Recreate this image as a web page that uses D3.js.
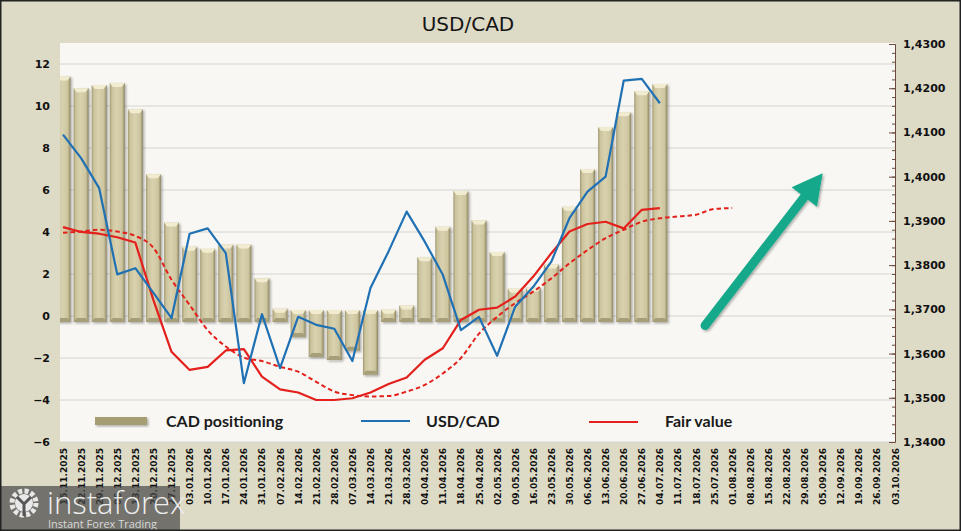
<!DOCTYPE html>
<html>
<head>
<meta charset="utf-8">
<script src="https://cdn.jsdelivr.net/npm/d3@7"></script>
<style>
  html, body { margin: 0; padding: 0; background: #dddac6; }
  svg { display: block; }
</style>
</head>
<body>
<div id="chart"></div>
<script>
// weekly dates on the x axis
const dates = [
  "15.11.2025", "22.11.2025", "29.11.2025", "06.12.2025", "13.12.2025", "20.12.2025", "27.12.2025",
  "03.01.2026", "10.01.2026", "17.01.2026", "24.01.2026", "31.01.2026", "07.02.2026", "14.02.2026",
  "21.02.2026", "28.02.2026", "07.03.2026", "14.03.2026", "21.03.2026", "28.03.2026", "04.04.2026",
  "11.04.2026", "18.04.2026", "25.04.2026", "02.05.2026", "09.05.2026", "16.05.2026", "23.05.2026",
  "30.05.2026", "06.06.2026", "13.06.2026", "20.06.2026", "27.06.2026", "04.07.2026", "11.07.2026",
  "18.07.2026", "25.07.2026", "01.08.2026", "08.08.2026", "15.08.2026", "22.08.2026", "29.08.2026",
  "05.09.2026", "12.09.2026", "19.09.2026", "26.09.2026", "03.10.2026"
];

// CAD positioning (left axis)
const cadPositioning = [
  11.4, 10.85, 11.0, 11.1, 9.85, 6.75, 4.45, 3.3, 3.2, 3.4, 3.4, 1.8, 0.35, -1.0,
  -1.95, -2.1, -1.65, -2.8, 0.3, 0.5, 2.8, 4.25, 5.95, 4.55, 3.05, 1.3, 1.35, 2.45,
  5.2, 7.0, 9.0, 9.7, 10.7, 11.05
];

// USD/CAD (right axis)
const usdcad = [
  1.4095, 1.4042, 1.3974, 1.3779, 1.3793, 1.3737, 1.3680, 1.3871, 1.3883, 1.3827,
  1.3533, 1.3689, 1.3567, 1.3683, 1.3665, 1.3656, 1.3583, 1.3748, 1.3831, 1.3921,
  1.3853, 1.3778, 1.3653, 1.3683, 1.3595, 1.3706, 1.3751, 1.3808, 1.3906, 1.3966,
  1.4000, 1.4217, 1.4221, 1.4166
];

// Fair value (right axis)
const fairValue = [
  1.3886, 1.3875, 1.3871, 1.3863, 1.3851, 1.3721, 1.3604, 1.3563, 1.3570, 1.3607,
  1.3610, 1.3548, 1.3519, 1.3512, 1.3495, 1.3495, 1.3499, 1.3512, 1.3531, 1.3546,
  1.3586, 1.3612, 1.3676, 1.3699, 1.3704, 1.3729, 1.3774, 1.3827, 1.3876, 1.3893,
  1.3898, 1.3883, 1.3925, 1.3929
];

// Fair value trend (dashed, right axis)
const fairTrend = [
  1.3873, 1.3876, 1.3880, 1.3876, 1.3866, 1.3839, 1.3767, 1.3710, 1.3653, 1.3616,
  1.3591, 1.3583, 1.3570, 1.3559, 1.3536, 1.3514, 1.3506, 1.3503, 1.3504, 1.3514,
  1.3529, 1.3555, 1.3590, 1.3645, 1.3683, 1.3714, 1.3740, 1.3770, 1.3804, 1.3834,
  1.3861, 1.3880, 1.3898, 1.3906, 1.3910, 1.3914, 1.3927, 1.3929
];

const leftTicks = [-6, -4, -2, 0, 2, 4, 6, 8, 10, 12];
const rightTicks = [1.34, 1.35, 1.36, 1.37, 1.38, 1.39, 1.40, 1.41, 1.42, 1.43];

// trend arrow, in (week index, left value)
const arrowFrom = [35.5, -0.45];
const arrowTo = [42.0, 6.8];

const W = 961, H = 531;
const plot = { left: 60, right: 895, top: 43, bottom: 442 };

const svg = d3.select("#chart").append("svg")
  .attr("width", W)
  .attr("height", H);

const defs = svg.append("defs");

const grad = defs.append("linearGradient").attr("id", "barGrad")
  .attr("x1", "0%").attr("x2", "100%").attr("y1", "0%").attr("y2", "0%");
[["0%", "#9f9771"], ["14%", "#cbc39c"], ["45%", "#d9d2af"], ["82%", "#cdc59e"], ["100%", "#8c8462"]]
  .forEach(s => grad.append("stop").attr("offset", s[0]).attr("stop-color", s[1]));

const shadow = defs.append("filter").attr("id", "shadow")
  .attr("x", "-20%").attr("y", "-20%").attr("width", "150%").attr("height", "150%");
shadow.append("feDropShadow")
  .attr("dx", 1.5).attr("dy", 1.5).attr("stdDeviation", 1.2)
  .attr("flood-color", "#000").attr("flood-opacity", 0.3);

defs.append("clipPath").attr("id", "plotClip")
  .append("rect")
  .attr("x", plot.left).attr("y", plot.top)
  .attr("width", plot.right - plot.left).attr("height", plot.bottom - plot.top);

// backgrounds
svg.append("rect").attr("width", W).attr("height", H).attr("fill", "#dddac6");
svg.append("rect")
  .attr("x", plot.left).attr("y", plot.top)
  .attr("width", plot.right - plot.left).attr("height", plot.bottom - plot.top)
  .attr("fill", "#f8f7f3");

// scales
const x = d3.scaleLinear().domain([0, dates.length - 1]).range([63, 895]);
const yL = d3.scaleLinear().domain([-6, 13]).range([plot.bottom, plot.top]);
const yR = d3.scaleLinear().domain([1.34, 1.43]).range([plot.bottom, 44]);

// gridlines
svg.append("g")
  .selectAll("line")
  .data(leftTicks)
  .enter()
  .append("line")
  .attr("x1", plot.left).attr("x2", plot.right)
  .attr("y1", d => yL(d)).attr("y2", d => yL(d))
  .attr("stroke", "#d6d4cf")
  .attr("stroke-width", 1);

// title
svg.append("text")
  .attr("x", 468).attr("y", 31)
  .attr("text-anchor", "middle")
  .style("font-family", "'DejaVu Sans', Verdana, sans-serif")
  .style("font-size", "20px")
  .style("fill", "#151515")
  .text("USD/CAD");

const g = svg.append("g").attr("clip-path", "url(#plotClip)");

// bars
const bw = 15, cap = 6;
const bars = g.append("g").attr("filter", "url(#shadow)")
  .selectAll("g")
  .data(cadPositioning)
  .enter()
  .append("g");

bars.append("rect")
  .attr("x", (d, i) => x(i) - bw / 2)
  .attr("y", d => d >= 0 ? yL(d) : yL(0) - cap)
  .attr("width", bw)
  .attr("height", d => Math.abs(yL(d) - yL(0)) + cap)
  .attr("fill", "url(#barGrad)");

// light top bevel
bars.append("path")
  .attr("d", (d, i) => {
    const x0 = x(i) - bw / 2, x1 = x(i) + bw / 2;
    const t = d >= 0 ? yL(d) : yL(0) - cap;
    return `M${x0},${t}L${x1},${t}L${x1 - 3},${t + 4}L${x0 + 3},${t + 4}Z`;
  })
  .attr("fill", "#f1ecd0");

// darker bottom bevel
bars.append("path")
  .attr("d", (d, i) => {
    const x0 = x(i) - bw / 2, x1 = x(i) + bw / 2;
    const b = d >= 0 ? yL(0) + cap : yL(d);
    return `M${x0},${b}L${x1},${b}L${x1 - 3},${b - 4}L${x0 + 3},${b - 4}Z`;
  })
  .attr("fill", "#a69e78");

// lines
g.append("path")
  .datum(fairTrend)
  .attr("d", d3.line().x((d, i) => x(i)).y(d => yR(d)).curve(d3.curveMonotoneX))
  .attr("fill", "none")
  .attr("stroke", "#e3201b")
  .attr("stroke-width", 2)
  .attr("stroke-dasharray", "4.5 3");

g.append("path")
  .datum(fairValue)
  .attr("d", d3.line().x((d, i) => x(i)).y(d => yR(d)))
  .attr("fill", "none")
  .attr("stroke", "#e3201b")
  .attr("stroke-width", 2.2)
  .attr("stroke-linejoin", "round");

g.append("path")
  .datum(usdcad)
  .attr("d", d3.line().x((d, i) => x(i)).y(d => yR(d)))
  .attr("fill", "none")
  .attr("stroke", "#2070b4")
  .attr("stroke-width", 2.2)
  .attr("stroke-linejoin", "round");

// arrow
const ax0 = x(arrowFrom[0]), ay0 = yL(arrowFrom[1]);
const ax1 = x(arrowTo[0]), ay1 = yL(arrowTo[1]);
const ang = Math.atan2(ay1 - ay0, ax1 - ax0);
const headL = 30, headW = 16;
const bx = ax1 - headL * Math.cos(ang), by = ay1 - headL * Math.sin(ang);
const arrow = svg.append("g").attr("filter", "url(#shadow)");
arrow.append("line")
  .attr("x1", ax0).attr("y1", ay0).attr("x2", bx).attr("y2", by)
  .attr("stroke", "#18a88b").attr("stroke-width", 9).attr("stroke-linecap", "round");
arrow.append("path")
  .attr("d", `M${ax1},${ay1}L${bx + headW * Math.sin(ang)},${by - headW * Math.cos(ang)}L${bx - headW * Math.sin(ang)},${by + headW * Math.cos(ang)}Z`)
  .attr("fill", "#18a88b");

// left axis
svg.append("g")
  .attr("transform", `translate(${plot.left},0)`)
  .call(d3.axisLeft(yL).tickValues(leftTicks).tickSize(0).tickPadding(10).tickFormat(d3.format("d")))
  .call(a => a.select(".domain").remove())
  .call(a => a.selectAll("text")
    .style("font-family", "'DejaVu Sans', Verdana, sans-serif")
    .style("font-weight", "bold")
    .style("font-size", "11px")
    .style("fill", "#111"));

// right axis
const minorTicks = d3.range(0, 46).map(i => 1.34 + i * 0.002);
svg.append("g")
  .attr("transform", `translate(${plot.right},0)`)
  .call(d3.axisLeft(yR).tickValues(minorTicks).tickSize(3).tickFormat(""))
  .call(a => a.select(".domain").attr("stroke", "#6b4a3c"))
  .call(a => a.selectAll(".tick line").attr("stroke", "#6b4a3c"));

svg.append("g")
  .attr("transform", `translate(${plot.right},0)`)
  .call(d3.axisLeft(yR).tickValues(rightTicks).tickSize(6).tickFormat(""))
  .call(a => a.select(".domain").remove())
  .call(a => a.selectAll(".tick line").attr("stroke", "#6b4a3c"));

svg.append("g")
  .attr("transform", `translate(${plot.right},0)`)
  .call(d3.axisRight(yR).tickValues(rightTicks).tickSize(0).tickPadding(8)
    .tickFormat(d => d3.format(".4f")(d).replace(".", ",")))
  .call(a => a.select(".domain").remove())
  .call(a => a.selectAll("text")
    .style("font-family", "'DejaVu Sans', Verdana, sans-serif")
    .style("font-weight", "bold")
    .style("font-size", "11px")
    .style("fill", "#111"));

// x axis labels
svg.append("g")
  .selectAll("text")
  .data(dates)
  .enter()
  .append("text")
  .attr("transform", (d, i) => `translate(${x(i) + 3.5},448) rotate(-90)`)
  .attr("text-anchor", "end")
  .style("font-family", "'DejaVu Sans', Verdana, sans-serif")
  .style("font-weight", "bold")
  .style("font-size", "9px")
  .style("fill", "#111")
  .text(d => d);

// legend
const legend = svg.append("g");
const legendFont = "Lato, 'Open Sans', sans-serif";
legend.append("rect")
  .attr("x", 95).attr("y", 417).attr("width", 52).attr("height", 8)
  .attr("fill", "#a69e72")
  .attr("filter", "url(#shadow)");
legend.append("line")
  .attr("x1", 361).attr("x2", 410).attr("y1", 421).attr("y2", 421)
  .attr("stroke", "#2070b4").attr("stroke-width", 2);
legend.append("line")
  .attr("x1", 589).attr("x2", 638).attr("y1", 422).attr("y2", 422)
  .attr("stroke", "#e3201b").attr("stroke-width", 2);
[["CAD positioning", 166], ["USD/CAD", 426], ["Fair value", 665]].forEach(l => {
  legend.append("text")
    .attr("x", l[1]).attr("y", 427)
    .style("font-family", legendFont)
    .style("font-weight", "bold")
    .style("font-size", "16px")
    .style("fill", "#1a1a1a")
    .text(l[0]);
});

// watermark
const logo = svg.append("g");
logo.append("rect")
  .attr("x", 0).attr("y", 486).attr("width", 180).attr("height", 45)
  .attr("fill", "#4a4a4a").attr("opacity", 0.72);
logo.append("circle")
  .attr("cx", 24).attr("cy", 503).attr("r", 12)
  .attr("fill", "none").attr("stroke", "#e8e8e8").attr("stroke-width", 5)
  .attr("stroke-dasharray", "4 2.3");
logo.append("circle")
  .attr("cx", 24).attr("cy", 503).attr("r", 9)
  .attr("fill", "#e8e8e8");
logo.append("path")
  .attr("d", "M17,497L24,504L31,497M24,504L24,516")
  .attr("fill", "none").attr("stroke", "#555").attr("stroke-width", 3);
logo.append("text")
  .attr("x", 47).attr("y", 514)
  .style("font-family", "'Open Sans', sans-serif")
  .style("font-weight", 300)
  .style("font-size", "31px")
  .style("fill", "#eeeeee")
  .text("instaforex");
logo.append("text")
  .attr("x", 48).attr("y", 528)
  .style("font-family", "'Open Sans', sans-serif")
  .style("font-size", "11px")
  .style("fill", "#d8d8d8")
  .text("Instant Forex Trading");

// outer border
svg.append("rect")
  .attr("x", 0.75).attr("y", 0.75).attr("width", W - 1.5).attr("height", H - 1.5)
  .attr("fill", "none").attr("stroke", "#222").attr("stroke-width", 1.5);
</script>
</body>
</html>
